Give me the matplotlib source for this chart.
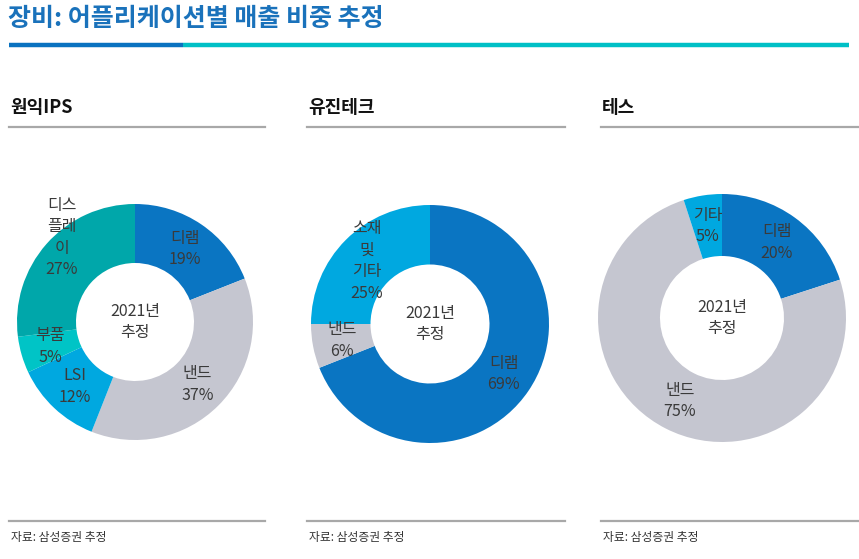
import matplotlib
matplotlib.use('Agg')
import matplotlib.pyplot as plt
import numpy as np

plt.rcParams['font.family'] = ['Noto Sans CJK KR', 'DejaVu Sans']

W, H = 859, 559

# data
title = '장비: 어플리케이션별 매출 비중 추정'
companies = ['원익IPS', '유진테크', '테스']
source = '자료: 삼성증권 추정'
center_label = '2021년\n추정'

wonik_labels = ['디램', '낸드', 'LSI', '부품', '디스\n플레\n이']
wonik_values = [19, 37, 12, 5, 27]
eugene_labels = ['디램', '낸드', '소재\n및\n기타']
eugene_values = [69, 6, 25]
tes_labels = ['디램', '낸드', '기타']
tes_values = [20, 75, 5]

DRAM = '#0A75C2'
NAND = '#C5C6D0'
SKY = '#00A8E0'
TEAL = '#00C4C6'
DTEAL = '#00A7AA'

wonik_colors = [DRAM, NAND, SKY, TEAL, DTEAL]
eugene_colors = [DRAM, NAND, SKY]
tes_colors = [DRAM, NAND, SKY]

TXT = '#3a3a3a'


def px_axes(fig, x0, y0, w, h):
    return fig.add_axes([x0 / W, 1 - (y0 + h) / H, w / W, h / H])


def donut(fig, cx, cy, r, labels, values, colors, offsets=None):
    ax = px_axes(fig, cx - r, cy - r, 2 * r, 2 * r)
    ax.pie(values, colors=colors, startangle=90, counterclock=False, radius=1,
           wedgeprops=dict(width=0.5, edgecolor='none'))
    ax.set_xlim(-1, 1)
    ax.set_ylim(-1, 1)
    ax.axis('off')
    total = sum(values)
    cum = 0
    for i, (lab, v) in enumerate(zip(labels, values)):
        mid = (cum + v / 2) / total * 2 * np.pi
        cum += v
        x, y = 0.75 * np.sin(mid), 0.75 * np.cos(mid)
        if offsets and i in offsets:
            x += offsets[i][0]
            y += offsets[i][1]
        ax.text(x, y, f'{lab}\n{v}%', ha='center', va='center', fontsize=11.5,
                color=TXT, linespacing=1.35)
    ax.text(0, 0, center_label, ha='center', va='center', fontsize=11.5,
            color=TXT, linespacing=1.3)
    return ax


fig = plt.figure(figsize=(W / 100, H / 100), dpi=100)

# header
fig.text(8 / W, 1 - 19 / H, title, fontsize=18, fontweight='bold',
         color='#1A72BB', va='center', ha='left')
bar = px_axes(fig, 0, 0, W, H)
bar.set_xlim(0, W)
bar.set_ylim(H, 0)
bar.axis('off')
bar.plot([9, 183], [45, 45], color='#0A72C0', lw=3.2, solid_capstyle='butt')
bar.plot([183, 849], [45, 45], color='#00C0C6', lw=3.2, solid_capstyle='butt')

panels = [(9, 265), (307, 565), (601, 858)]
for (x0, x1), name in zip(panels, companies):
    fig.text((x0 + 1) / W, 1 - 108 / H, name, fontsize=13, fontweight='bold',
             color='#111111', va='center', ha='left')
    bar.plot([x0, x1], [127, 127], color='#a8a8a8', lw=1.6)
    bar.plot([x0, x1], [521, 521], color='#a8a8a8', lw=1.6)
    fig.text((x0 + 2) / W, 1 - 538 / H, source, fontsize=8.5, color='#333333',
             va='center', ha='left')

donut(fig, 135, 322, 118, wonik_labels, wonik_values, wonik_colors,
      offsets={4: (-0.06, 0.22)})
donut(fig, 430, 324, 119, eugene_labels, eugene_values, eugene_colors)
donut(fig, 722, 318, 124, tes_labels, tes_values, tes_colors)

fig.savefig('out.png', dpi=100)
